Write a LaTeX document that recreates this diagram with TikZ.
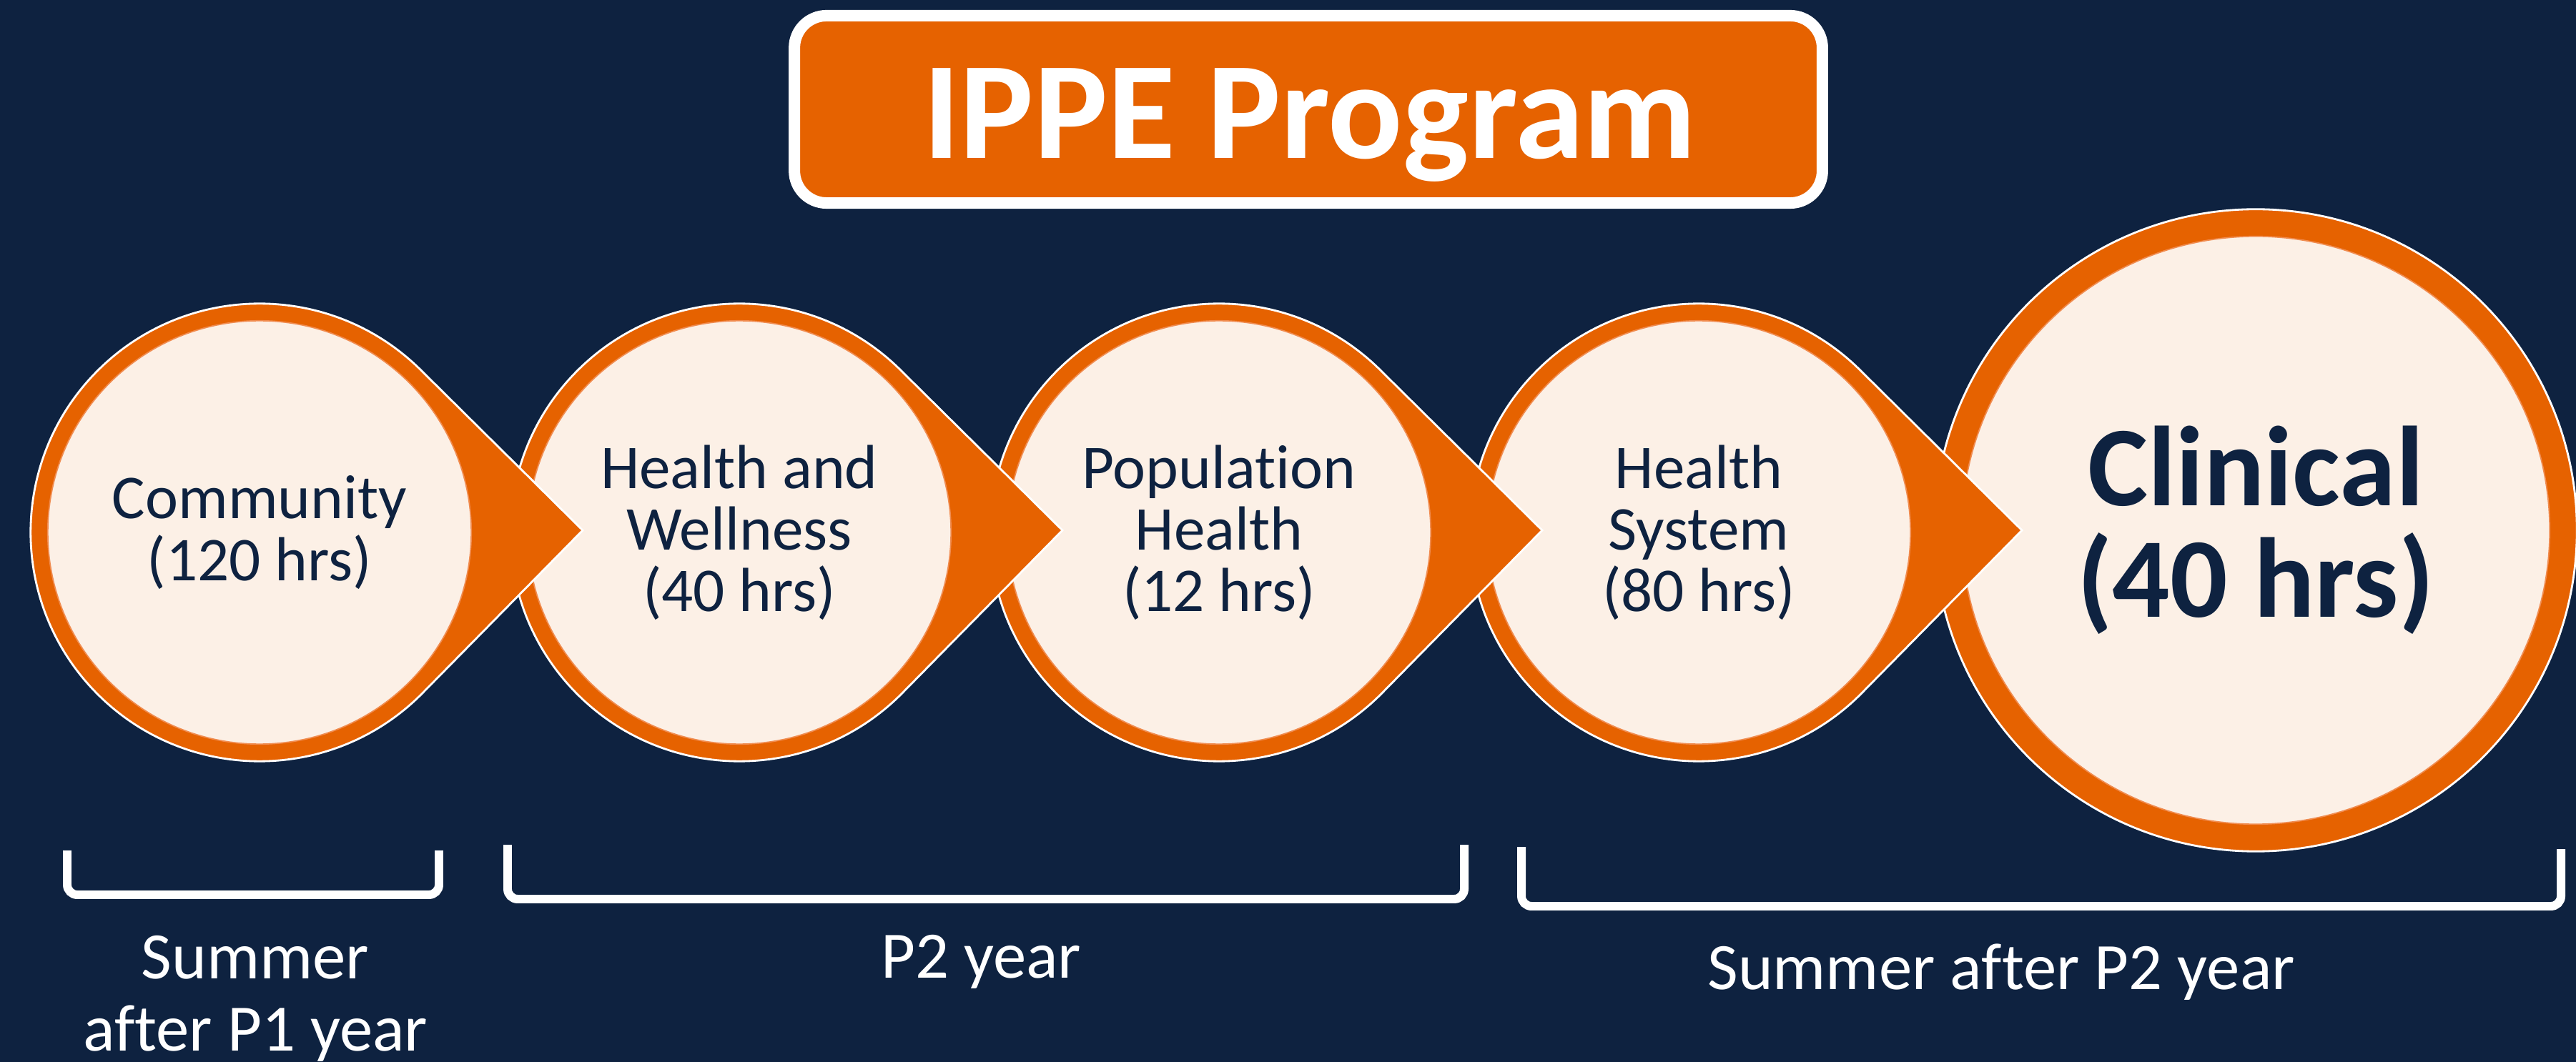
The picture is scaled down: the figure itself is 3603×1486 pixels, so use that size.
\documentclass[tikz,border=0pt]{standalone}
\usepackage{fontspec}
\setmainfont[Ligatures=NoCommon]{Carlito}
\usetikzlibrary{calc}
\definecolor{navy}{HTML}{0E2240}
\definecolor{ippeorange}{HTML}{E66200}
\definecolor{cream}{HTML}{FCF0E6}
\definecolor{rimorange}{HTML}{F08C50}

\begin{document}
\begin{tikzpicture}[x=0.01cm,y=-0.01cm,
  drop/.style={fill=ippeorange, draw=white, line width=0.8pt},
  stage/.style={circle, fill=cream, draw=rimorange, line width=0.5pt,
    inner sep=0pt, minimum size=5.92cm, align=center, text=navy,
    font=\fontsize{24.8}{24.5}\selectfont},
  bracket/.style={draw=white, line width=3.4pt, rounded corners=4pt},
  period/.style={text=white, align=center,
    font=\fontsize{26.4}{28.7}\selectfont}]

% background and page size
\fill[navy] (0,0) rectangle (3603,1486);
\useasboundingbox (0,0) rectangle (3603,1486);

% title banner
\node[fill=ippeorange, draw=white, line width=4.55pt, rounded corners=0.45cm,
  minimum width=14.37cm, minimum height=2.62cm, inner sep=0pt]
  (titlebox) at (1830,153) {};
\node[anchor=base, text=white, font=\bfseries\fontsize{55.2}{60}\selectfont]
  (title) at (1832,222) {IPPE Program};

% stage centres and arrow tips
\coordinate (p1) at (363,745);
\coordinate (p2) at (1034,745);
\coordinate (p3) at (1705,745);
\coordinate (p4) at (2376,745);
\coordinate (p5) at (3155,742);
\coordinate (t1) at (815,742);
\coordinate (t2) at (1486,742);
\coordinate (t3) at (2157,742);
\coordinate (t4) at (2828,742);

% last stage: plain ring
\fill[ippeorange, draw=white, line width=0.8pt] (p5) circle[radius=4.49cm];
\node[stage, minimum size=8.22cm, font=\bfseries\fontsize{45.2}{44.4}\selectfont]
  (s5) at (p5) {Clinical\\(40 hrs)};

% stages drawn right to left so each pointer lies over the next ring
\path[drop] ($(p4)+(45:3.2cm)$) arc[start angle=45, end angle=315, radius=3.2cm] -- (t4) -- cycle;
\node[stage] (s4) at (p4) {Health\\System\\(80 hrs)};

\path[drop] ($(p3)+(45:3.2cm)$) arc[start angle=45, end angle=315, radius=3.2cm] -- (t3) -- cycle;
\node[stage] (s3) at (p3) {Population\\Health\\(12 hrs)};

\path[drop] ($(p2)+(45:3.2cm)$) arc[start angle=45, end angle=315, radius=3.2cm] -- (t2) -- cycle;
\node[stage] (s2) at (p2) {Health and\\Wellness\\(40 hrs)};

\path[drop] ($(p1)+(45:3.2cm)$) arc[start angle=45, end angle=315, radius=3.2cm] -- (t1) -- cycle;
\node[stage] (s1) at (p1) {Community\\(120 hrs)};

% period brackets
\draw[bracket] (94,1190) -- (94,1252) -- (614,1252) -- (614,1190);
\draw[bracket] (710,1182) -- (710,1258) -- (2048,1258) -- (2048,1182);
\draw[bracket] (2128,1185) -- (2128,1268) -- (3582,1268) -- (3582,1188);

% period labels
\node[period] (l1) at (357,1397) {Summer\\after P1 year};
\node[period, anchor=base] (l2) at (1372,1368) {P2 year};
\node[period, anchor=base] (l3) at (2799,1384) {Summer after P2 year};

\end{tikzpicture}
\end{document}
